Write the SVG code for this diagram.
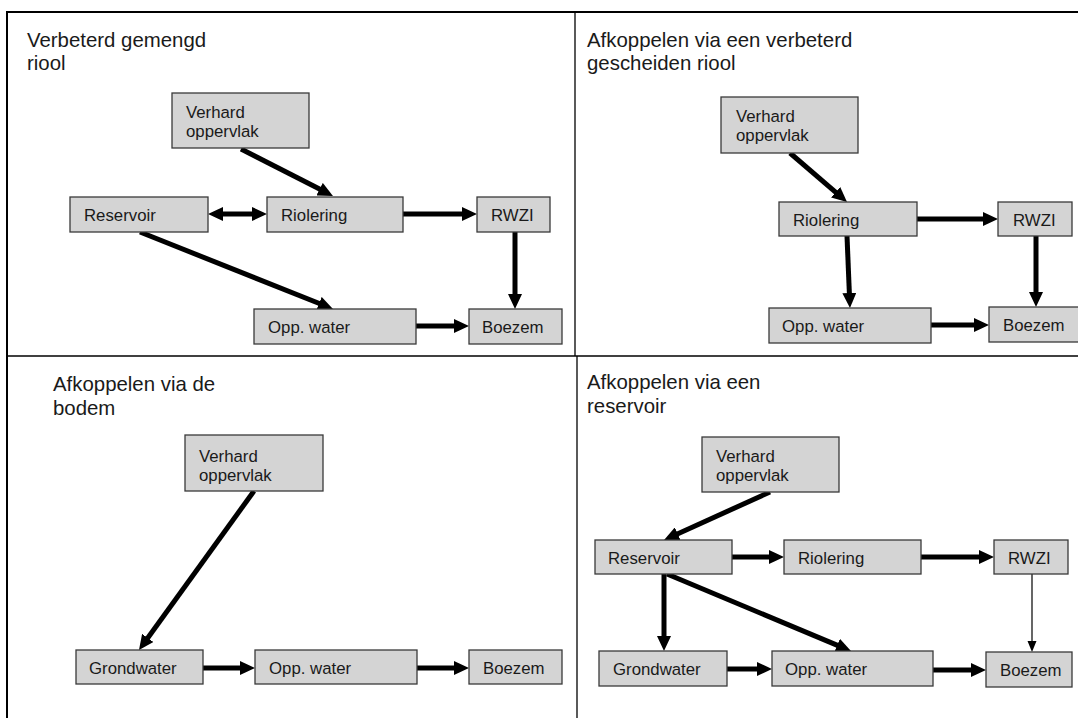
<svg xmlns="http://www.w3.org/2000/svg" width="1078" height="718" viewBox="0 0 1078 718">
  <style>
    .frame { stroke: #000; fill: none; }
    .box { fill: #d4d4d4; stroke: #3a3a3a; stroke-width: 1.3; }
    .lbl { font-family: "Liberation Sans", Arial, sans-serif; font-size: 16.8px; fill: #1a1a1a; }
    .title { font-family: "Liberation Sans", Arial, sans-serif; font-size: 20.4px; fill: #1a1a1a; }
    .arrow { stroke: #000; stroke-width: 5; fill: none; marker-end: url(#head); }
    .both { marker-start: url(#head); }
    .thin { stroke: #000; stroke-width: 1.2; fill: none; marker-end: url(#headSmall); }
  </style>
  <defs>
    <marker id="head" markerUnits="userSpaceOnUse" markerWidth="16" markerHeight="14" refX="1" refY="7" orient="auto-start-reverse">
      <path d="M0,0 L15,7 L0,14 z" fill="#000"/>
    </marker>
    <marker id="headSmall" markerUnits="userSpaceOnUse" markerWidth="12" markerHeight="10" refX="1" refY="4.5" orient="auto">
      <path d="M0,0 L11,4.5 L0,9 z" fill="#000"/>
    </marker>
  </defs>

  <rect width="1078" height="718" fill="#fff"/>

  <!-- panel frame -->
  <g id="frame">
    <line class="frame" x1="7" y1="12" x2="1078" y2="12" stroke-width="2"/>
    <line class="frame" x1="7" y1="11" x2="7" y2="718" stroke-width="2"/>
    <line class="frame" x1="575" y1="12" x2="575" y2="356" stroke-width="1.3"/>
    <line class="frame" x1="577" y1="356" x2="577" y2="718" stroke-width="1.3"/>
    <line class="frame" x1="7" y1="356" x2="1078" y2="356" stroke-width="1.5"/>
  </g>

  <!-- panel titles -->
  <g id="titles">
    <text class="title" x="27" y="47">Verbeterd gemengd</text>
    <text class="title" x="27" y="70">riool</text>
    <text class="title" x="587" y="47">Afkoppelen via een verbeterd</text>
    <text class="title" x="587" y="70">gescheiden riool</text>
    <text class="title" x="53" y="391">Afkoppelen via de</text>
    <text class="title" x="53" y="415">bodem</text>
    <text class="title" x="587" y="389">Afkoppelen via een</text>
    <text class="title" x="587" y="413">reservoir</text>
  </g>

  <!-- connectors -->
  <g id="connectors">
    <!-- panel 1 -->
    <line class="arrow" x1="241" y1="149" x2="320.5" y2="189.6"/>
    <line class="arrow both" x1="222" y1="214" x2="253" y2="214"/>
    <line class="arrow" x1="403" y1="214" x2="463" y2="214"/>
    <line class="arrow" x1="515" y1="232" x2="515" y2="295"/>
    <line class="arrow" x1="140" y1="232" x2="320" y2="303.8"/>
    <line class="arrow" x1="416" y1="326" x2="455" y2="326"/>
    <!-- panel 2 -->
    <line class="arrow" x1="790" y1="153" x2="836.4" y2="192.9"/>
    <line class="arrow" x1="917" y1="219" x2="984" y2="219"/>
    <line class="arrow" x1="847" y1="236" x2="849.4" y2="294"/>
    <line class="arrow" x1="1036" y1="236" x2="1036" y2="293"/>
    <line class="arrow" x1="931" y1="325" x2="975" y2="325"/>
    <!-- panel 3 -->
    <line class="arrow" x1="254" y1="491" x2="147.2" y2="638.7"/>
    <line class="arrow" x1="203" y1="668" x2="241" y2="668"/>
    <line class="arrow" x1="417" y1="668" x2="455" y2="668"/>
    <!-- panel 4 -->
    <line class="arrow" x1="770" y1="492" x2="676.8" y2="534.2"/>
    <line class="arrow" x1="732" y1="557" x2="770" y2="557"/>
    <line class="arrow" x1="921" y1="557" x2="980" y2="557"/>
    <line class="thin" x1="1032" y1="574" x2="1032" y2="642"/>
    <line class="arrow" x1="664" y1="574" x2="664" y2="637"/>
    <line class="arrow" x1="667" y1="574" x2="838.1" y2="645.6"/>
    <line class="arrow" x1="727" y1="669" x2="758" y2="669"/>
    <line class="arrow" x1="933" y1="670" x2="972" y2="670"/>
  </g>

  <!-- panel 1: improved combined sewer -->
  <g id="p1-verhard"><rect class="box" x="172" y="93" width="137" height="55"/><text class="lbl" x="186" y="118">Verhard</text><text class="lbl" x="186" y="137">oppervlak</text></g>
  <g id="p1-reservoir"><rect class="box" x="70" y="197" width="138" height="35"/><text class="lbl" x="84" y="221">Reservoir</text></g>
  <g id="p1-riolering"><rect class="box" x="267" y="197" width="136" height="35"/><text class="lbl" x="281" y="221">Riolering</text></g>
  <g id="p1-rwzi"><rect class="box" x="477" y="197" width="73" height="35"/><text class="lbl" x="491" y="221">RWZI</text></g>
  <g id="p1-oppwater"><rect class="box" x="254" y="309" width="162" height="35"/><text class="lbl" x="268" y="333">Opp. water</text></g>
  <g id="p1-boezem"><rect class="box" x="469" y="309" width="93" height="35"/><text class="lbl" x="482" y="333">Boezem</text></g>

  <!-- panel 2: improved separate sewer -->
  <g id="p2-verhard"><rect class="box" x="721" y="97" width="137" height="56"/><text class="lbl" x="736" y="122">Verhard</text><text class="lbl" x="736" y="141">oppervlak</text></g>
  <g id="p2-riolering"><rect class="box" x="779" y="202" width="138" height="34"/><text class="lbl" x="793" y="226">Riolering</text></g>
  <g id="p2-rwzi"><rect class="box" x="998" y="202" width="74" height="34"/><text class="lbl" x="1013" y="226">RWZI</text></g>
  <g id="p2-oppwater"><rect class="box" x="769" y="308" width="162" height="35"/><text class="lbl" x="782" y="332">Opp. water</text></g>
  <g id="p2-boezem"><rect class="box" x="989" y="307" width="100" height="35"/><text class="lbl" x="1003" y="331">Boezem</text></g>

  <!-- panel 3: via the soil -->
  <g id="p3-verhard"><rect class="box" x="185" y="435" width="138" height="56"/><text class="lbl" x="199" y="462">Verhard</text><text class="lbl" x="199" y="481">oppervlak</text></g>
  <g id="p3-grondwater"><rect class="box" x="76" y="650" width="127" height="34"/><text class="lbl" x="89" y="674">Grondwater</text></g>
  <g id="p3-oppwater"><rect class="box" x="255" y="650" width="162" height="34"/><text class="lbl" x="269" y="674">Opp. water</text></g>
  <g id="p3-boezem"><rect class="box" x="469" y="650" width="93" height="34"/><text class="lbl" x="483" y="674">Boezem</text></g>

  <!-- panel 4: via a reservoir -->
  <g id="p4-verhard"><rect class="box" x="702" y="437" width="137" height="55"/><text class="lbl" x="716" y="462">Verhard</text><text class="lbl" x="716" y="481">oppervlak</text></g>
  <g id="p4-reservoir"><rect class="box" x="595" y="540" width="137" height="34"/><text class="lbl" x="608" y="564">Reservoir</text></g>
  <g id="p4-riolering"><rect class="box" x="784" y="540" width="137" height="34"/><text class="lbl" x="798" y="564">Riolering</text></g>
  <g id="p4-rwzi"><rect class="box" x="994" y="540" width="74" height="34"/><text class="lbl" x="1008" y="564">RWZI</text></g>
  <g id="p4-grondwater"><rect class="box" x="599" y="651" width="128" height="35"/><text class="lbl" x="613" y="675">Grondwater</text></g>
  <g id="p4-oppwater"><rect class="box" x="772" y="651" width="161" height="35"/><text class="lbl" x="785" y="675">Opp. water</text></g>
  <g id="p4-boezem"><rect class="box" x="986" y="652" width="86" height="35"/><text class="lbl" x="1000" y="676">Boezem</text></g>
</svg>
